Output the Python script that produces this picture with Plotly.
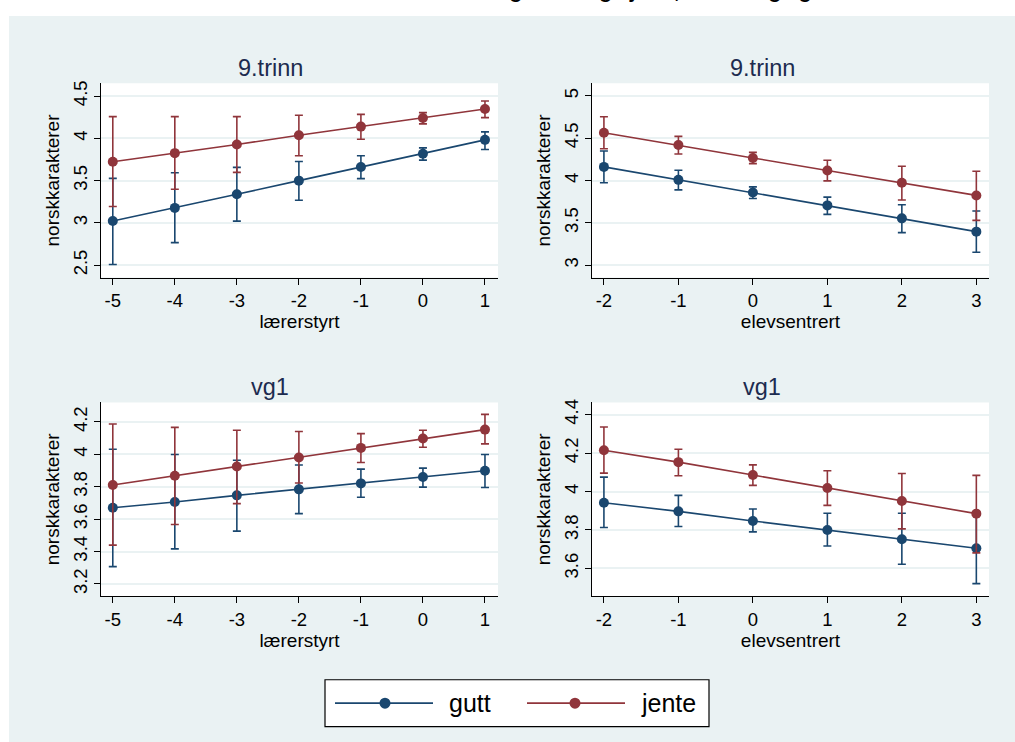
import plotly.graph_objects as go

W, H = 1015, 742
NAVY = "#1a476f"
MAROON = "#90353b"
BG = "#eaf2f3"
TITLE_C = "#1c2b4f"
FONT = "Liberation Sans, Arial, sans-serif"

# ---------------- data ----------------
x_laerer = [-5, -4, -3, -2, -1, 0, 1]
x_elev = [-2, -1, 0, 1, 2, 3]
x_laerer_labels = ["-5", "-4", "-3", "-2", "-1", "0", "1"]
x_elev_labels = ["-2", "-1", "0", "1", "2", "3"]

# 9.trinn, lærerstyrt
t9_l_gutt = [3.022, 3.178, 3.339, 3.500, 3.661, 3.818, 3.982]
t9_l_gutt_hi = [3.527, 3.594, 3.657, 3.727, 3.794, 3.888, 4.076]
t9_l_gutt_lo = [2.508, 2.767, 3.022, 3.269, 3.524, 3.743, 3.869]
t9_l_jente = [3.724, 3.825, 3.927, 4.037, 4.139, 4.241, 4.347]
t9_l_jente_hi = [4.257, 4.257, 4.257, 4.273, 4.284, 4.304, 4.441]
t9_l_jente_lo = [3.194, 3.398, 3.598, 3.794, 3.990, 4.171, 4.245]

# 9.trinn, elevsentrert
t9_e_gutt = [4.161, 4.008, 3.859, 3.706, 3.553, 3.396]
t9_e_gutt_hi = [4.349, 4.122, 3.925, 3.804, 3.714, 3.639]
t9_e_gutt_lo = [3.973, 3.890, 3.788, 3.600, 3.384, 3.153]
t9_e_jente = [4.565, 4.420, 4.267, 4.118, 3.973, 3.824]
t9_e_jente_hi = [4.753, 4.522, 4.333, 4.239, 4.169, 4.110]
t9_e_jente_lo = [4.376, 4.314, 4.200, 3.996, 3.769, 3.529]

# vg1, lærerstyrt
vg_l_gutt = [3.671, 3.706, 3.747, 3.784, 3.821, 3.860, 3.899]
vg_l_gutt_hi = [4.032, 3.999, 3.964, 3.934, 3.909, 3.915, 3.999]
vg_l_gutt_lo = [3.307, 3.417, 3.526, 3.634, 3.735, 3.798, 3.796]
vg_l_jente = [3.811, 3.868, 3.925, 3.981, 4.040, 4.098, 4.153]
vg_l_jente_hi = [4.188, 4.167, 4.149, 4.141, 4.128, 4.149, 4.247]
vg_l_jente_lo = [3.440, 3.567, 3.696, 3.823, 3.950, 4.044, 4.065]

# vg1, elevsentrert
vg_e_gutt = [3.942, 3.897, 3.847, 3.800, 3.752, 3.705]
vg_e_gutt_hi = [4.075, 3.980, 3.909, 3.887, 3.887, 3.890]
vg_e_gutt_lo = [3.813, 3.818, 3.790, 3.717, 3.622, 3.521]
vg_e_jente = [4.215, 4.153, 4.086, 4.018, 3.951, 3.885]
vg_e_jente_hi = [4.336, 4.220, 4.139, 4.108, 4.094, 4.084]
vg_e_jente_lo = [4.096, 4.082, 4.032, 3.928, 3.806, 3.681]

panel_titles = ["9.trinn", "9.trinn", "vg1", "vg1"]
x_titles = ["lærerstyrt", "elevsentrert", "lærerstyrt", "elevsentrert"]
y_title = "norskkarakterer"
legend_labels = ["gutt", "jente"]
y_ticks = [[2.5, 3, 3.5, 4, 4.5], [3, 3.5, 4, 4.5, 5],
           [3.2, 3.4, 3.6, 3.8, 4, 4.2], [3.6, 3.8, 4, 4.2, 4.4]]
y_ranges = [[2.354, 4.65], [2.853, 5.148], [3.124, 4.321], [3.455, 4.464]]
x_ranges = [[-5.19, 1.21], [-2.16, 3.17], [-5.19, 1.21], [-2.16, 3.17]]
main_title = "Norskkarakter etter undervisningsform og kjønn, 9.trinn og vg1"

panels = [
    (x_laerer, x_laerer_labels, [(t9_l_gutt, t9_l_gutt_lo, t9_l_gutt_hi), (t9_l_jente, t9_l_jente_lo, t9_l_jente_hi)]),
    (x_elev, x_elev_labels, [(t9_e_gutt, t9_e_gutt_lo, t9_e_gutt_hi), (t9_e_jente, t9_e_jente_lo, t9_e_jente_hi)]),
    (x_laerer, x_laerer_labels, [(vg_l_gutt, vg_l_gutt_lo, vg_l_gutt_hi), (vg_l_jente, vg_l_jente_lo, vg_l_jente_hi)]),
    (x_elev, x_elev_labels, [(vg_e_gutt, vg_e_gutt_lo, vg_e_gutt_hi), (vg_e_jente, vg_e_jente_lo, vg_e_jente_hi)]),
]
colors = [NAVY, MAROON]

# pixel geometry of panels (left, right, top, bottom)
px_x = [(101, 498), (592, 989), (101, 498), (592, 989)]
px_y = [(80.7, 275.7), (80.7, 275.7), (401, 595.7), (401, 595.7)]
title_pos = [(270, 65), (762, 65), (270, 386), (762, 386)]

fig = go.Figure()
layout = dict()
for i, (xs, xlabels, series) in enumerate(panels):
    ax = "" if i == 0 else str(i + 1)
    for s, (vals, lo, hi) in enumerate(series):
        plus = [h - v for h, v in zip(hi, vals)]
        minus = [v - l for v, l in zip(vals, lo)]
        fig.add_trace(go.Scatter(
            x=xs, y=vals, mode="lines+markers", name=legend_labels[s],
            xaxis="x" + ax, yaxis="y" + ax, showlegend=False,
            line=dict(color=colors[s], width=1.6),
            marker=dict(color=colors[s], size=10),
            error_y=dict(type="data", symmetric=False, array=plus, arrayminus=minus,
                         color=colors[s], thickness=1.6, width=4),
        ))
    l, r = px_x[i]
    t, b = px_y[i]
    layout["xaxis" + ax] = dict(
        domain=[l / W, r / W], range=x_ranges[i], anchor="y" + ax,
        tickvals=xs, ticktext=xlabels, ticks="outside", ticklen=6, tickwidth=1.2, tickcolor="black",
        showline=True, linecolor="black", linewidth=1.2, showgrid=False, zeroline=False,
        tickfont=dict(family=FONT, size=18.5, color="black"),
        title=dict(text=x_titles[i], font=dict(family=FONT, size=19, color="black"), standoff=0),
    )
    layout["yaxis" + ax] = dict(
        domain=[1 - b / H, 1 - t / H], range=y_ranges[i], anchor="x" + ax,
        tickvals=y_ticks[i], ticks="outside", ticklen=6, tickwidth=1.2, tickcolor="black",
        tickangle=-90,
        showline=True, linecolor="black", linewidth=1.2, showgrid=True,
        gridcolor=BG, gridwidth=1.5, zeroline=False,
        tickfont=dict(family=FONT, size=18.5, color="black"),
        title=dict(text=y_title, font=dict(family=FONT, size=19, color="black"), standoff=4),
    )

annotations = []
for i, (cx, cy) in enumerate(title_pos):
    annotations.append(dict(text=panel_titles[i], x=cx / W, y=1 - cy / H, xref="paper", yref="paper",
                            xanchor="center", yanchor="middle", showarrow=False,
                            font=dict(family=FONT, size=23.5, color=TITLE_C)))
annotations.append(dict(text="<b>" + main_title + "</b>", x=0.5, y=1 - 1.5 / H, xref="paper", yref="paper",
                        xanchor="center", yanchor="bottom", showarrow=False,
                        font=dict(family=FONT, size=21, color="black")))

shapes = [
    dict(type="rect", xref="paper", yref="paper", x0=9 / W, x1=1, y0=0, y1=1 - 13 / H,
         fillcolor=BG, line=dict(width=0), layer="below"),
]
for i in range(4):
    l, r = px_x[i]
    t, b = px_y[i]
    shapes.append(dict(type="rect", xref="paper", yref="paper", x0=l / W, x1=r / W,
                       y0=1 - b / H, y1=1 - t / H, fillcolor="white", line=dict(width=0), layer="below"))

# legend (drawn manually: box, line keys, markers, labels)
leg_l, leg_r, leg_t, leg_b = 325, 709, 679.5, 726.5
cy = 1 - ((leg_t + leg_b) / 2) / H
shapes.append(dict(type="rect", xref="paper", yref="paper", x0=leg_l / W, x1=leg_r / W,
                   y0=1 - leg_b / H, y1=1 - leg_t / H, fillcolor="white",
                   line=dict(color="black", width=1.2)))
key_x = [(335, 433, 385, 447), (527, 625, 575, 639)]
for s in range(2):
    x0, x1, mx, tx = key_x[s]
    shapes.append(dict(type="line", xref="paper", yref="paper", x0=x0 / W, x1=x1 / W, y0=cy, y1=cy,
                       line=dict(color=colors[s], width=1.6)))
    shapes.append(dict(type="circle", xref="paper", yref="paper",
                       x0=(mx - 5.5) / W, x1=(mx + 5.5) / W, y0=cy - 5.5 / H, y1=cy + 5.5 / H,
                       fillcolor=colors[s], line=dict(color=colors[s], width=0)))
    annotations.append(dict(text=legend_labels[s], x=tx / W, y=cy, xref="paper", yref="paper",
                            xanchor="left", yanchor="middle", showarrow=False,
                            font=dict(family=FONT, size=25, color="black")))

fig.update_layout(
    width=W, height=H, margin=dict(l=0, r=0, t=0, b=0),
    paper_bgcolor="white", plot_bgcolor="rgba(0,0,0,0)",
    showlegend=False, annotations=annotations, shapes=shapes,
    **layout,
)
fig.write_html("out.html")
